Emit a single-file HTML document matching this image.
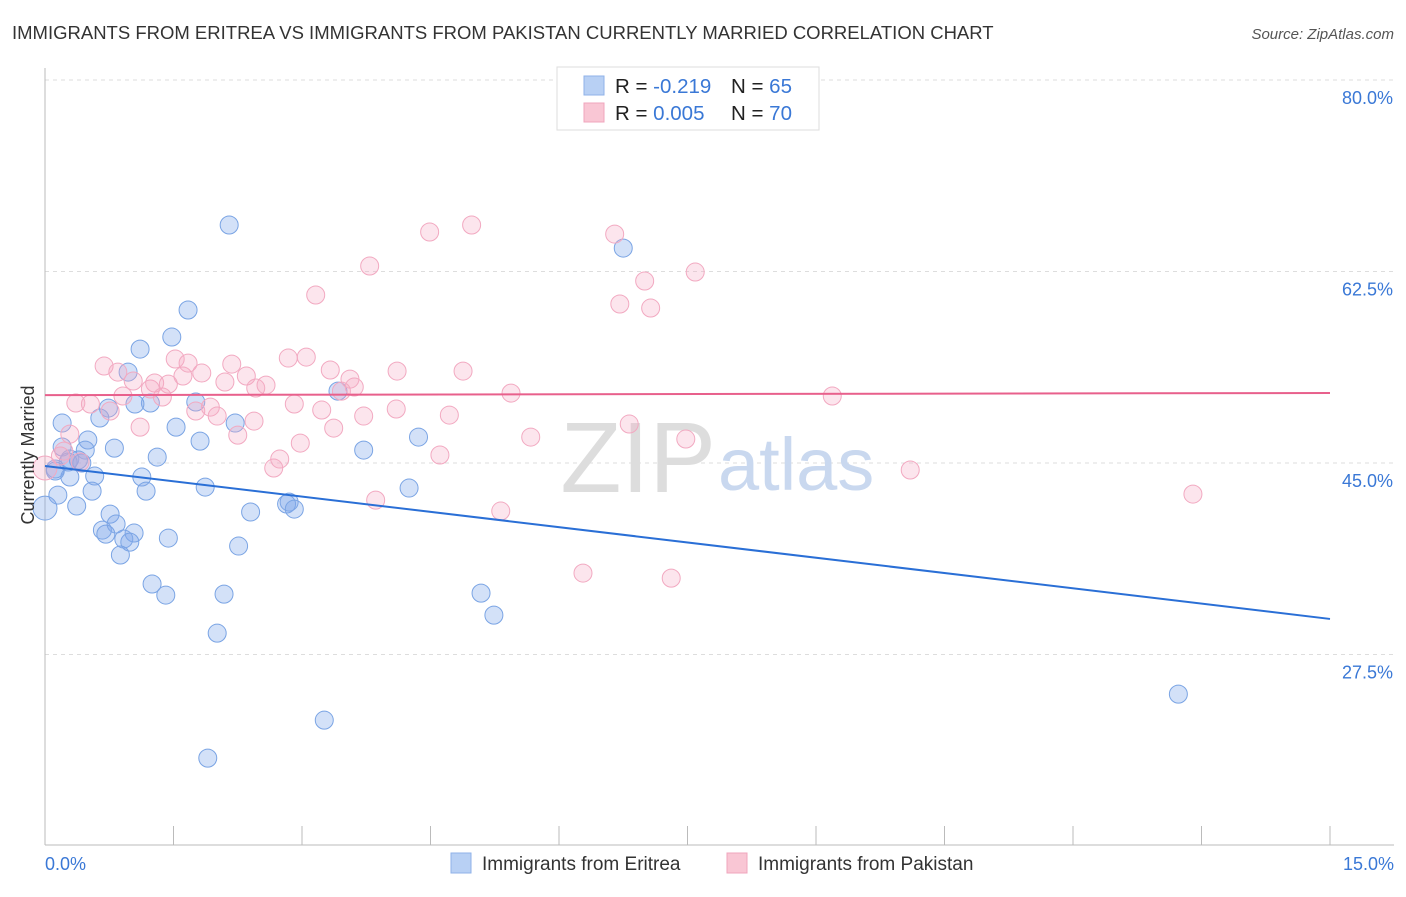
<!DOCTYPE html>
<html><head><meta charset="utf-8"><style>
body{margin:0;background:#fff;font-family:"Liberation Sans",sans-serif}
svg text{font-family:"Liberation Sans",sans-serif}
</style></head><body>
<svg id="chart" width="1406" height="892" xmlns="http://www.w3.org/2000/svg">
<text x="12" y="39" font-size="18.5" fill="#333">IMMIGRANTS FROM ERITREA VS IMMIGRANTS FROM PAKISTAN CURRENTLY MARRIED CORRELATION CHART</text>
<text x="1394" y="39" font-size="15" fill="#555" font-style="italic" text-anchor="end">Source: ZipAtlas.com</text>
<g id="grid"></g>
<g id="axes"></g>
<text x="716" y="492" font-size="100" fill="#ddd" text-anchor="end" font-family="Liberation Serif">ZIP</text>
<text x="718" y="490" font-size="74" fill="#c9d8ef">atlas</text>
<g id="pts"></g>
<g id="lines"></g>
<text transform="translate(34,455) rotate(-90)" font-size="18" fill="#333" text-anchor="middle">Currently Married</text>
<text x="45" y="870" font-size="18" fill="#3a78d6">0.0%</text>
<text x="1394" y="870" font-size="18" fill="#3a78d6" text-anchor="end">15.0%</text>
<g>
<rect x="557" y="67" width="262" height="63" fill="#fff" stroke="#ddd"/>
<rect x="584" y="76" width="20" height="19" fill="#b8d0f4" stroke="#8fb2e8"/>
<rect x="584" y="103" width="20" height="19" fill="#f9c6d4" stroke="#f0a5bd"/>
<text x="615" y="93" font-size="20.5" fill="#222">R = <tspan fill="#3a78d6">-0.219</tspan><tspan x="731">N = </tspan><tspan fill="#3a78d6">65</tspan></text>
<text x="615" y="120" font-size="20.5" fill="#222">R = <tspan fill="#3a78d6">0.005</tspan><tspan x="731">N = </tspan><tspan fill="#3a78d6">70</tspan></text>
</g>
<g>
<rect x="451" y="853" width="20" height="20" fill="#b8d0f4" stroke="#8fb2e8"/>
<text x="482" y="870" font-size="19" fill="#333">Immigrants from Eritrea</text>
<rect x="727" y="853" width="20" height="20" fill="#f9c6d4" stroke="#f0a5bd"/>
<text x="758" y="870" font-size="19" fill="#333">Immigrants from Pakistan</text>
</g>
</svg>
<script>
const yTicks=[80,62.5,45,27.5];
const yTickLabels=["80.0%","62.5%","45.0%","27.5%"];
const xTicks=[0,1.5,3,4.5,6,7.5,9,10.5,12,13.5,15];
const eritreaX=[2.15,6.75,1.67,1.48,1.11,0.97,3.42,1.76,1.23,0.74,1.05,0.20,0.64,1.53,2.22,4.36,0.50,0.20,1.81,0.81,0.47,1.31,3.72,0.29,0.39,0.27,0.43,0.12,0.58,0.29,1.13,1.87,0.55,4.25,0.15,1.18,2.85,2.82,2.91,0.37,2.40,0.76,0.67,0.83,1.04,0.71,0.92,0.99,1.44,2.26,0.88,1.25,1.41,2.09,5.09,5.24,2.01,3.26,1.90,13.23,0,0.12];
const eritreaY=[66.75,64.64,58.98,56.51,55.41,53.31,51.57,50.57,50.48,50.02,50.39,48.65,49.11,48.28,48.65,47.37,47.1,46.46,47.0,46.36,46.18,45.54,46.18,45.36,45.27,45.09,45.0,44.45,43.81,43.72,43.72,42.8,42.43,42.71,42.07,42.43,41.43,41.25,40.79,41.07,40.52,40.33,38.87,39.42,38.6,38.5,38.05,37.77,38.14,37.41,36.59,33.94,32.93,33.02,33.11,31.1,29.45,21.5,18.03,23.88,40.88,44.27];
const pakistanX=[0,0.22,0.29,0.41,0.36,0.53,0.69,0.85,1.03,0.91,1.23,1.28,1.37,1.11,1.44,1.52,1.61,1.67,1.83,1.76,1.93,2.01,2.10,2.18,2.25,2.35,2.46,2.58,2.44,2.67,2.74,2.84,2.91,2.98,3.05,3.16,3.23,3.37,3.33,3.56,3.61,3.46,3.72,3.79,3.86,4.11,4.10,4.49,4.61,4.72,4.88,4.98,5.32,5.44,5.67,6.28,6.65,6.71,6.82,7.0,7.07,7.31,7.48,7.59,9.19,10.10,13.40,0.18,0.76];
const pakistanY=[44.54,46.09,47.64,45.09,50.48,50.39,53.86,53.31,52.49,51.12,51.76,52.31,51.03,48.28,52.21,54.5,52.95,54.13,53.22,49.75,50.11,49.29,52.4,54.04,47.55,52.95,51.85,52.12,48.83,44.54,45.36,54.59,50.39,46.82,54.68,60.35,49.84,48.19,53.5,52.67,51.94,51.57,49.29,63.0,41.61,53.4,49.93,66.11,45.73,49.38,53.4,66.75,40.61,51.39,47.37,34.94,65.92,59.53,48.56,61.63,59.16,34.48,47.19,62.45,51.12,44.36,42.16,45.64,49.75];
const eritreaTrend=[44.73,30.75];
const pakistanTrend=[51.2,51.4];
const trendX=[0,15];

const NS="http://www.w3.org/2000/svg";
const xs=v=>45+v/15*1285;
const ys=v=>80+(80-v)*(191.5/17.5);
function mk(tag,attrs,parent){const e=document.createElementNS(NS,tag);for(const k in attrs)e.setAttribute(k,attrs[k]);parent.appendChild(e);return e;}
const grid=document.getElementById('grid'),axes=document.getElementById('axes'),pts=document.getElementById('pts'),lines=document.getElementById('lines');
yTicks.forEach((t,i)=>{
 const l=mk('line',{x1:45,x2:1394,y1:ys(t),y2:ys(t),stroke:'#ddd','stroke-dasharray':'4,4'},grid);
 
 
 const tx=mk('text',{x:1393,y:ys(t)+24,'font-size':18,fill:'#3a78d6','text-anchor':'end'},grid);
 tx.textContent=yTickLabels[i];
 
 
});
const yax=mk('line',{x1:45,x2:45,y1:68,y2:845,stroke:'#bbb'},axes);


const xax=mk('line',{x1:45,x2:1394,y1:845,y2:845,stroke:'#bbb'},axes);


xTicks.forEach(t=>{
 const l=mk('line',{x1:xs(t),x2:xs(t),y1:826,y2:845,stroke:'#bbb'},axes);
 
 
});
function plot(X,Y,fill,stroke,name){
 X.forEach((x,i)=>{
  const r=(x===0)?12:9;
  const c=mk('circle',{cx:xs(x),cy:ys(Y[i]),r:r,fill:fill,stroke:stroke,'stroke-width':1},pts);
  
  
 });
}
plot(eritreaX,eritreaY,'rgba(130,170,235,0.35)','#7aa4e4','point-eritrea');
plot(pakistanX,pakistanY,'rgba(245,170,195,0.3)','#f2a9c1','point-pakistan');
const lb=mk('line',{x1:xs(trendX[0]),x2:xs(trendX[1]),y1:ys(eritreaTrend[0]),y2:ys(eritreaTrend[1]),stroke:'#2a6fd6','stroke-width':2},lines);


const lp=mk('line',{x1:xs(trendX[0]),x2:xs(trendX[1]),y1:ys(pakistanTrend[0]),y2:ys(pakistanTrend[1]),stroke:'#e8608c','stroke-width':2},lines);


</script>
</body></html>
